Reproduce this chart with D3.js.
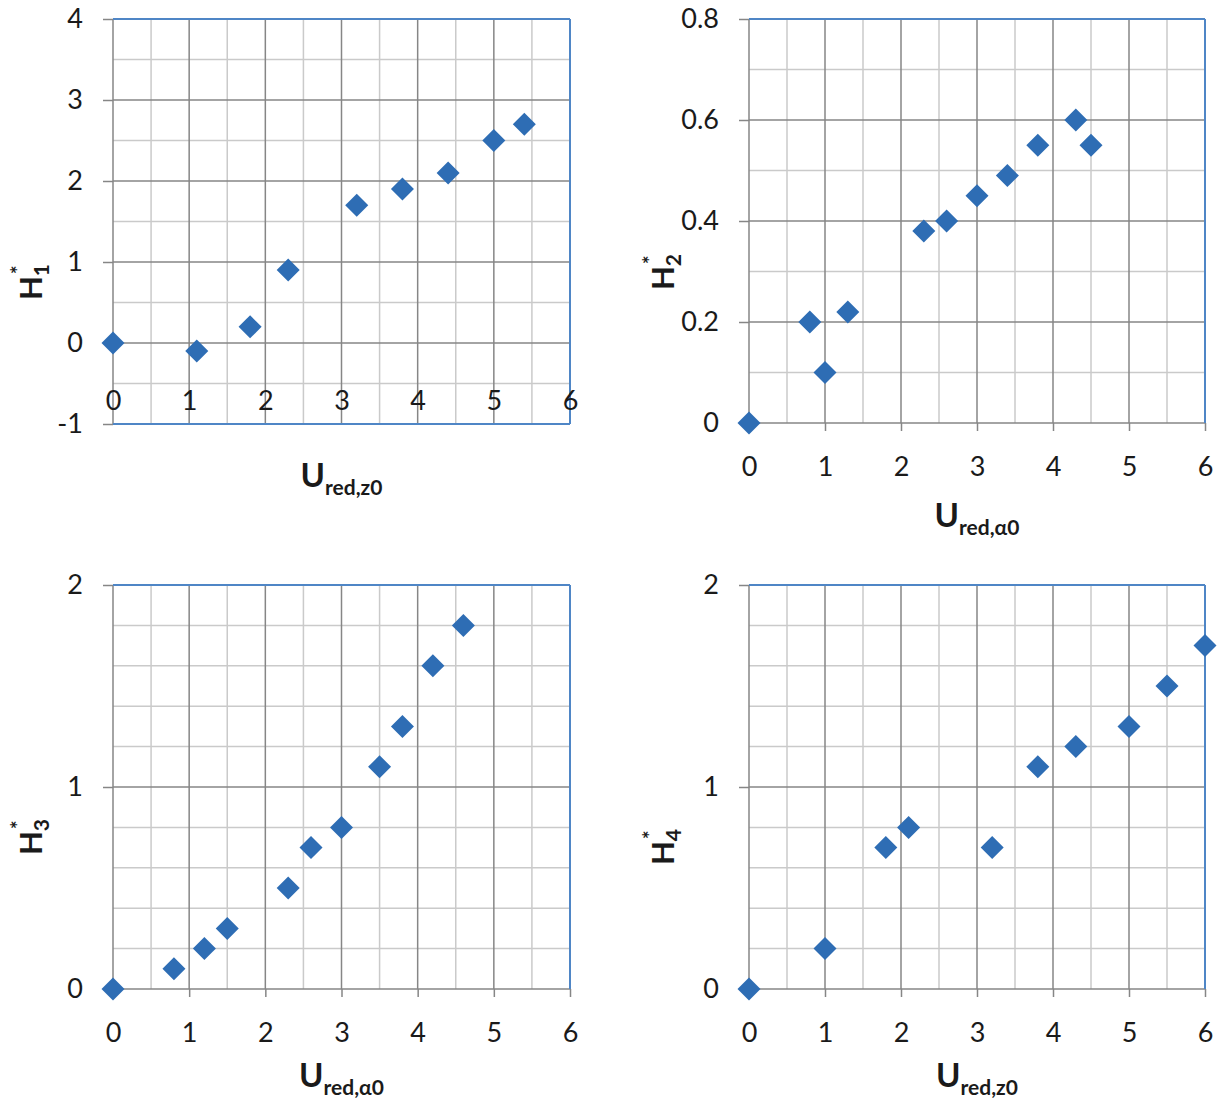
<!doctype html>
<html lang="en">
  <head>
    <meta charset="UTF-8" />
    <title>H* vs U_red</title>
    <style>
      body { margin: 0; background: #fff; }
      text { font-family: Lato, "Open Sans", sans-serif; fill: #1a1a1a; }
    </style>
  </head>
  <body>
    <div id="target"></div>
    <script src="https://d3js.org/d3.v7.min.js"></script>
    <script>
      /* global d3 */

      // panel 1: H1* vs U_red,z0
      const p1X = [0, 1.1, 1.8, 2.3, 3.2, 3.8, 4.4, 5.0, 5.4];
      const p1Y = [0, -0.1, 0.2, 0.9, 1.7, 1.9, 2.1, 2.5, 2.7];
      // panel 2: H2* vs U_red,a0
      const p2X = [0, 0.8, 1.0, 1.3, 2.3, 2.6, 3.0, 3.4, 3.8, 4.3, 4.5];
      const p2Y = [0, 0.2, 0.1, 0.22, 0.38, 0.4, 0.45, 0.49, 0.55, 0.6, 0.55];
      // panel 3: H3* vs U_red,a0
      const p3X = [0, 0.8, 1.2, 1.5, 2.3, 2.6, 3.0, 3.5, 3.8, 4.2, 4.6];
      const p3Y = [0, 0.1, 0.2, 0.3, 0.5, 0.7, 0.8, 1.1, 1.3, 1.6, 1.8];
      // panel 4: H4* vs U_red,z0
      const p4X = [0, 1.0, 1.8, 2.1, 3.2, 3.8, 4.3, 5.0, 5.5, 6.0];
      const p4Y = [0, 0.2, 0.7, 0.8, 0.7, 1.1, 1.2, 1.3, 1.5, 1.7];

      const xTicks = [0, 1, 2, 3, 4, 5, 6];
      const y1Ticks = [-1, 0, 1, 2, 3, 4];
      const y2Ticks = [0, 0.2, 0.4, 0.6, 0.8];
      const y34Ticks = [0, 1, 2];

      const width = 1230,
        height = 1104;

      const svg = d3
        .select("#target")
        .append("svg")
        .attr("width", width)
        .attr("height", height)
        .attr("viewBox", [0, 0, width, height]);

      const panels = [
        {
          xs: p1X, ys: p1Y, yTicks: y1Ticks, yMinor: 0.5,
          left: 113, right: 570, top: 19, bottom: 424,
          xPad: 48, blueBottom: true,
          sub: "1", xSub: "red,z0", xTitleY: 487, yTitleX: 42, yTitleY: 282,
        },
        {
          xs: p2X, ys: p2Y, yTicks: y2Ticks, yMinor: 0.1,
          left: 749, right: 1205, top: 19, bottom: 423,
          xPad: 34, blueBottom: false,
          sub: "2", xSub: "red,\u03b10", xTitleY: 527, yTitleX: 674, yTitleY: 272,
        },
        {
          xs: p3X, ys: p3Y, yTicks: y34Ticks, yMinor: 0.2,
          left: 113, right: 570, top: 585, bottom: 989,
          xPad: 34, blueBottom: false,
          sub: "3", xSub: "red,\u03b10", xTitleY: 1087, yTitleX: 42, yTitleY: 837,
        },
        {
          xs: p4X, ys: p4Y, yTicks: y34Ticks, yMinor: 0.2,
          left: 749, right: 1205, top: 585, bottom: 989,
          xPad: 34, blueBottom: false,
          sub: "4", xSub: "red,z0", xTitleY: 1087, yTitleX: 674, yTitleY: 847,
        },
      ];

      const blue = "#4f86c6",
        major = "#868686",
        minor = "#cacaca",
        marker = "#2e6db4";

      panels.forEach((p) => {
        const yDom = d3.extent(p.yTicks);
        const x = d3.scaleLinear().domain([0, 6]).range([p.left, p.right]);
        const y = d3.scaleLinear().domain(yDom).range([p.bottom, p.top]);
        const g = svg.append("g");

        // minor grid
        const xMinor = d3.range(0.5, 6, 1);
        const yMinorVals = d3
          .range(yDom[0], yDom[1] + 1e-9, p.yMinor)
          .filter((v) => !p.yTicks.some((t) => Math.abs(t - v) < 1e-6));
        g.selectAll(".vmin")
          .data(xMinor)
          .join("line")
          .attr("class", "vmin")
          .attr("x1", (d) => x(d)).attr("x2", (d) => x(d))
          .attr("y1", p.top).attr("y2", p.bottom)
          .attr("stroke", minor).attr("stroke-width", 1.5);
        g.selectAll(".hmin")
          .data(yMinorVals)
          .join("line")
          .attr("class", "hmin")
          .attr("x1", p.left).attr("x2", p.right)
          .attr("y1", (d) => y(d)).attr("y2", (d) => y(d))
          .attr("stroke", minor).attr("stroke-width", 1.5);

        // major grid
        g.selectAll(".vmaj")
          .data(xTicks)
          .join("line")
          .attr("class", "vmaj")
          .attr("x1", (d) => x(d)).attr("x2", (d) => x(d))
          .attr("y1", p.top).attr("y2", p.bottom)
          .attr("stroke", major).attr("stroke-width", 1.5);
        g.selectAll(".hmaj")
          .data(p.yTicks)
          .join("line")
          .attr("class", "hmaj")
          .attr("x1", p.left).attr("x2", p.right)
          .attr("y1", (d) => y(d)).attr("y2", (d) => y(d))
          .attr("stroke", major).attr("stroke-width", 1.5);

        // blue frame (top, right, and bottom on panel 1)
        const frame = [[p.left, p.top, p.right, p.top], [p.right, p.top, p.right, p.bottom]];
        if (p.blueBottom) frame.push([p.left, p.bottom, p.right, p.bottom]);
        g.selectAll(".frame")
          .data(frame)
          .join("line")
          .attr("class", "frame")
          .attr("x1", (d) => d[0]).attr("y1", (d) => d[1])
          .attr("x2", (d) => d[2]).attr("y2", (d) => d[3])
          .attr("stroke", blue).attr("stroke-width", 2);

        // y axis
        const ya = g
          .append("g")
          .attr("transform", `translate(${p.left},0)`)
          .call(
            d3.axisLeft(y).tickValues(p.yTicks).tickSize(10).tickPadding(20)
              .tickFormat((d) => String(d))
          );
        ya.select(".domain").remove();
        ya.selectAll(".tick line").attr("stroke", major).attr("stroke-width", 1.5);
        ya.selectAll(".tick text")
          .attr("fill", "#1a1a1a").style("font-size", "27px")
          .style("font-family", "Lato, 'Open Sans', sans-serif");

        // x axis (crosses at y = 0)
        const xa = g
          .append("g")
          .attr("transform", `translate(0,${y(0)})`)
          .call(
            d3.axisBottom(x).tickValues(xTicks)
              .tickSize(p.blueBottom ? 0 : 8)
              .tickPadding(p.blueBottom ? p.xPad : p.xPad - 8)
              .tickFormat((d) => String(d))
          );
        xa.select(".domain").remove();
        xa.selectAll(".tick line").attr("stroke", major).attr("stroke-width", 1.5);
        xa.selectAll(".tick text")
          .attr("fill", "#1a1a1a").style("font-size", "27px")
          .style("font-family", "Lato, 'Open Sans', sans-serif");

        // markers
        const pts = p.xs.map((v, i) => [v, p.ys[i]]);
        g.selectAll(".pt")
          .data(pts)
          .join("path")
          .attr("class", "pt")
          .attr("d", d3.symbol(d3.symbolSquare, 265))
          .attr("transform", (d) => `translate(${x(d[0])},${y(d[1])}) rotate(45)`)
          .attr("fill", marker);

        // x title
        const xt = g
          .append("text")
          .attr("x", (p.left + p.right) / 2)
          .attr("y", p.xTitleY)
          .attr("text-anchor", "middle")
          .style("font-weight", "bold");
        xt.append("tspan").style("font-size", "33px").text("U");
        xt.append("tspan").style("font-size", "21px").attr("dy", 8).text(p.xSub);

        // y title (rotated)
        const yt = g
          .append("text")
          .attr("transform", `translate(${p.yTitleX},${p.yTitleY}) rotate(-90)`)
          .attr("text-anchor", "middle")
          .style("font-weight", "bold");
        yt.append("tspan").style("font-size", "31px").text("H");
        yt.append("tspan").style("font-size", "21px").attr("dy", 7).text(p.sub);
        yt.append("tspan").style("font-size", "20px").attr("dx", -10).attr("dy", -23).text("*");
      });
    </script>
  </body>
</html>
